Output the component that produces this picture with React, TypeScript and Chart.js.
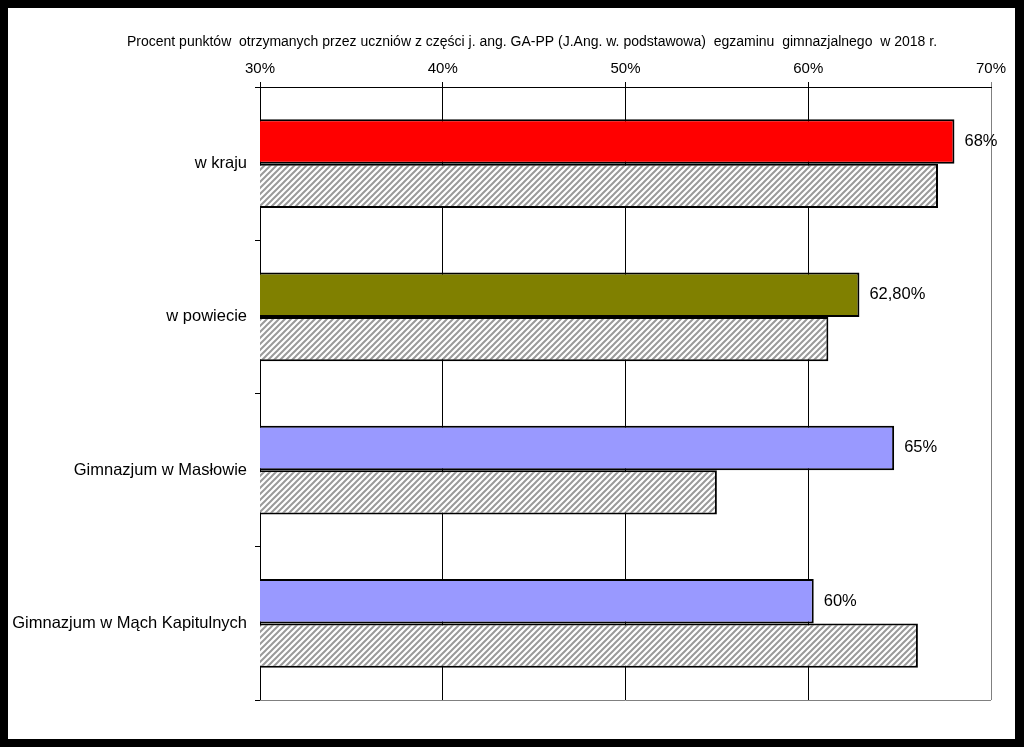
import React, { useEffect, useRef } from "react";
import { Chart, registerables } from "chart.js";

Chart.register(...registerables);

const titleText =
  "Procent punktów  otrzymanych przez uczniów z części j. ang. GA-PP (J.Ang. w. podstawowa)  egzaminu  gimnazjalnego  w 2018 r.";
const categories = ["w kraju", "w powiecie", "Gimnazjum w Masłowie", "Gimnazjum w Mąch Kapitulnych"];
const schoolValues = [68, 62.8, 64.7, 60.3];
const schoolLabels = ["68%", "62,80%", "65%", "60%"];
const compareValues = [67.1, 61.1, 55, 66];
const barColors = ["#FF0000", "#808000", "#9999FF", "#9999FF"];
const xTicks = [30, 40, 50, 60, 70];

const FONT = "'Liberation Sans', Arial, sans-serif";

function makeHatch(): CanvasPattern | string {
  const c = document.createElement("canvas");
  c.width = 6;
  c.height = 6;
  const g = c.getContext("2d");
  if (!g) return "#ccc";
  g.fillStyle = "#ffffff";
  g.fillRect(0, 0, 6, 6);
  g.strokeStyle = "#9a9a9a";
  g.lineWidth = 2;
  g.beginPath();
  g.moveTo(-1, 7);
  g.lineTo(7, -1);
  g.moveTo(-4, 4);
  g.lineTo(4, -4);
  g.moveTo(2, 10);
  g.lineTo(10, 2);
  g.stroke();
  const p = g.createPattern(c, "repeat");
  return p || "#ccc";
}

export default function App() {
  const ref = useRef<HTMLCanvasElement | null>(null);

  useEffect(() => {
    if (!ref.current) return;
    const hatch = makeHatch();

    const titlePlugin = {
      id: "titleText",
      afterDraw(chart: any) {
        const ctx = chart.ctx;
        ctx.save();
        ctx.font = `14px ${FONT}`;
        ctx.fillStyle = "#000";
        ctx.textAlign = "center";
        ctx.textBaseline = "middle";
        ctx.fillText(titleText, 524, 34);
        ctx.restore();
      },
    };

    const framePlugin = {
      id: "frameLines",
      afterDatasetsDraw(chart: any) {
        const { ctx, chartArea } = chart;
        ctx.save();
        ctx.strokeStyle = "#808080";
        ctx.lineWidth = 1;
        ctx.beginPath();
        ctx.moveTo(chartArea.left, Math.round(chartArea.bottom) + 0.5);
        ctx.lineTo(chartArea.right, Math.round(chartArea.bottom) + 0.5);
        ctx.stroke();
        ctx.restore();
      },
    };

    const labelPlugin = {
      id: "valueLabels",
      afterDatasetsDraw(chart: any) {
        const ctx = chart.ctx;
        const meta = chart.getDatasetMeta(0);
        ctx.save();
        ctx.font = `16.5px ${FONT}`;
        ctx.fillStyle = "#000";
        ctx.textAlign = "left";
        ctx.textBaseline = "middle";
        meta.data.forEach((bar: any, i: number) => {
          ctx.fillText(schoolLabels[i], bar.x + 10, bar.y);
        });
        ctx.restore();
      },
    };

    const chart = new Chart(ref.current, {
      type: "bar",
      data: {
        labels: categories,
        datasets: [
          {
            data: schoolValues,
            backgroundColor: barColors,
            borderColor: "#000",
            borderWidth: 2,
            borderSkipped: false,
          },
          {
            data: compareValues,
            backgroundColor: hatch as any,
            borderColor: "#000",
            borderWidth: 2,
            borderSkipped: false,
          },
        ],
      },
      options: {
        indexAxis: "y",
        animation: false,
        responsive: false,
        layout: { padding: { left: 0, right: 24, top: 0, bottom: 39 } },
        datasets: {
          bar: { barPercentage: 1, categoryPercentage: 0.58 },
        },
        plugins: {
          legend: { display: false },
          tooltip: { enabled: false },
          title: { display: false },
        },
        scales: {
          x: {
            position: "top",
            min: 30,
            max: 70,
            afterFit(scale: any) {
              scale.height = 79;
            },
            afterBuildTicks(scale: any) {
              scale.ticks = xTicks.map((v) => ({ value: v }));
            },
            ticks: {
              color: "#000",
              font: { family: FONT, size: 15 },
              padding: 4,
              callback: (v: any) => `${v}%`,
              maxRotation: 0,
            },
            grid: {
              color: (c: any) => (c.index === xTicks.length - 1 ? "#808080" : "#000"),
              lineWidth: 1,
              tickLength: 5,
            },
            border: { color: "#000", width: 1 },
          },
          y: {
            afterFit(scale: any) {
              scale.width = 252;
            },
            ticks: {
              color: "#000",
              font: { family: FONT, size: 16.5 },
              padding: 8,
            },
            grid: {
              drawOnChartArea: false,
              color: "#000",
              tickLength: 5,
              offset: true,
            },
            border: { color: "#000", width: 1 },
          },
        },
      },
      plugins: [titlePlugin, framePlugin, labelPlugin],
    } as any);

    return () => chart.destroy();
  }, []);

  return (
    <div style={{ position: "fixed", inset: 0, background: "#000" }}>
      <div
        style={{
          position: "absolute",
          left: 8,
          top: 8,
          width: 1007,
          height: 731,
          background: "#fff",
        }}
      >
        <canvas ref={ref} width={1007} height={731} style={{ display: "block" }} />
      </div>
    </div>
  );
}
